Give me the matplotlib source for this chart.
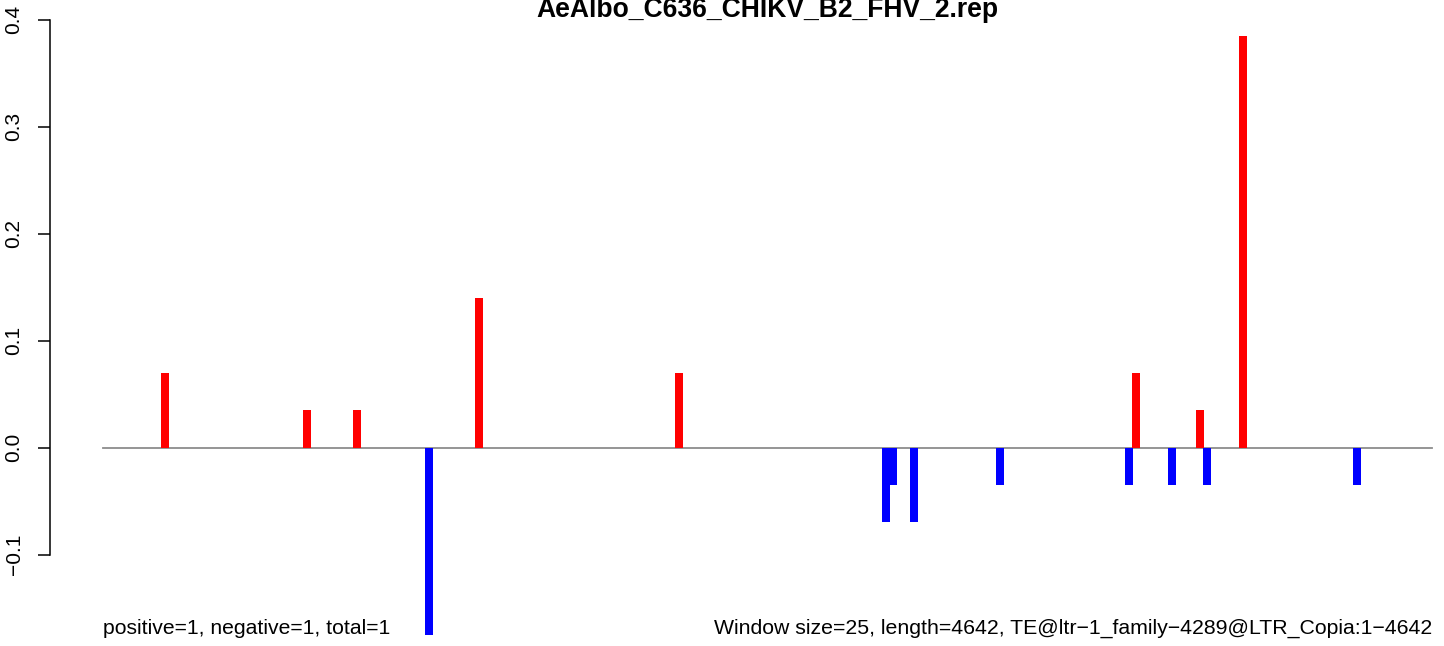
import matplotlib
matplotlib.use("Agg")
import matplotlib.pyplot as plt


TITLE = "AeAlbo_C636_CHIKV_B2_FHV_2.rep"
SEQ_LENGTH = 4642

# window positions and scores
pos_x = [217, 713, 888, 1314, 2012, 3608, 3832, 3982]
pos_y = [0.07, 0.035, 0.035, 0.14, 0.07, 0.07, 0.035, 0.385]

neg_x = [1139, 2735, 2760, 2833, 3133, 3584, 3734, 3856, 4380]
neg_y = [-0.175, -0.07, -0.035, -0.07, -0.035, -0.035, -0.035, -0.035, -0.035]

y_ticks = [-0.1, 0.0, 0.1, 0.2, 0.3, 0.4]

left_note = "positive=1, negative=1, total=1"
right_note = ("Window size=25, length=4642, "
              "TE@ltr\u22121_family\u22124289@LTR_Copia:1\u22124642")


def main():
    plt.rcParams["font.family"] = ["Liberation Sans", "DejaVu Sans"]
    W, H = 1444, 646
    fig = plt.figure(figsize=(W / 100, H / 100), dpi=100)

    # pixel geometry of the R plot region
    px_left, px_first, px_last = 50, 103, 1432
    s = (px_last - px_first) / (SEQ_LENGTH - 1)
    ax = fig.add_axes([px_left / W, 0, 1 - px_left / W, 1])
    ax.set_xlim(1 - (px_first - px_left) / s, SEQ_LENGTH + (W - px_last) / s)
    py0, unit = 447.5, 1070.0
    ax.set_ylim(-(H - py0) / unit, 0.4 + 19.5 / unit)

    bar_w = 8 / s
    ax.plot([1, SEQ_LENGTH], [0, 0], color="#8c8c8c", lw=1.3, zorder=1)
    ax.bar(pos_x, pos_y, width=bar_w, color="red", zorder=2)
    ax.bar(neg_x, neg_y, width=bar_w, color="blue", zorder=2)

    for side in ["top", "right", "bottom"]:
        ax.spines[side].set_visible(False)
    ax.spines["left"].set_bounds(-0.1, 0.4)
    ax.spines["left"].set_linewidth(1.1)
    ax.set_xticks([])
    ax.set_yticks(y_ticks)
    ax.set_yticklabels([f"{v:.1f}".replace("-", "\u2212") for v in y_ticks],
                       rotation=90, va="center", fontsize=15)
    ax.tick_params(axis="y", length=9, width=1.1, pad=10)

    text_y = -(634 - py0) / unit
    ax.text(1, text_y, left_note, ha="left", va="baseline", fontsize=15.2)
    ax.text(SEQ_LENGTH, text_y, right_note, ha="right", va="baseline",
            fontsize=15.3)

    fig.text((px_first + px_last) / 2 / W, 1 - 17 / H, TITLE, ha="center",
             va="baseline", fontsize=19.1, fontweight="bold")

    fig.savefig("out.png", dpi=100)


if __name__ == "__main__":
    main()
